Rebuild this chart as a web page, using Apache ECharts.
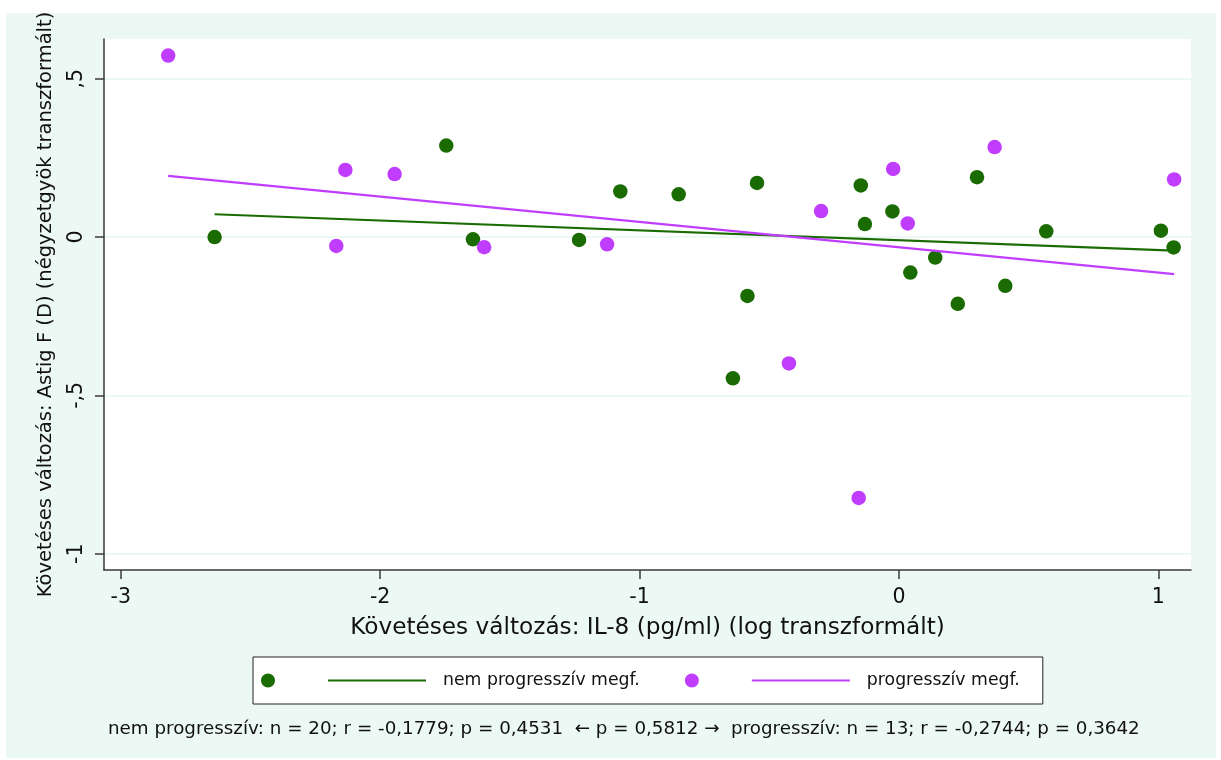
<!DOCTYPE html>
<html><head><meta charset="utf-8">
<script src="https://cdn.jsdelivr.net/npm/echarts@6/dist/echarts.min.js"></script>
<style>
html,body{margin:0;padding:0;background:#fff;width:1221px;height:760px;overflow:hidden}
#chart{position:absolute;left:6px;top:13px;width:1210px;height:745px;}
</style>
</head><body><div id="chart"></div>
<script>
// nem progresszív megf. (green)
const nemX = [-2.638, -1.745, -1.642, -1.233, -1.074, -0.849, -0.547, -0.584, -0.640, -0.147,
              -0.131, -0.025, 0.044, 0.140, 0.227, 0.301, 0.410, 0.568, 1.010, 1.059];
const nemY = [0.000, 0.289, -0.007, -0.009, 0.144, 0.135, 0.171, -0.186, -0.446, 0.163,
              0.041, 0.081, -0.112, -0.065, -0.211, 0.189, -0.154, 0.018, 0.020, -0.033];
// progresszív megf. (magenta)
const progX = [-2.817, -2.134, -2.169, -1.944, -1.599, -1.125, -0.424, -0.300, -0.155, -0.022,
               0.034, 0.369, 1.061];
const progY = [0.573, 0.212, -0.028, 0.199, -0.032, -0.023, -0.399, 0.082, -0.824, 0.215,
               0.043, 0.284, 0.182];
// fitted lines (end points)
const nemFitX = [-2.638, 1.059];
const nemFitY = [0.072, -0.043];
const progFitX = [-2.817, 1.061];
const progFitY = [0.193, -0.117];
// ticks
const xTicks = [-3, -2, -1, 0, 1];
const yTicks = [-1, -0.5, 0, 0.5];

const legendNames = ['nem progresszív megf.', 'progresszív megf.'];
const noteText = 'nem progresszív: n = 20; r = -0,1779; p = 0,4531  \u2190 p = 0,5812 \u2192  progresszív: n = 13; r = -0,2744; p = 0,3642';
const xName = 'Követéses változás: IL-8 (pg/ml) (log transzformált)';
const yName = 'Követéses változás: Astig F (D) (négyzetgyök transzformált)';

const GREEN = '#1a6c02';
const MAGENTA = '#c03dfd';
const MINT = '#ecf8f4';
const FONT = 'DejaVu Sans';
const AXIS = '#3a3a3a';
const ICON = 'path://M0,7 A7,7 0 1,1 14,7 A7,7 0 1,1 0,7 Z M67,6 L165,6 L165,8 L67,8 Z';

const zip = (xs, ys) => xs.map((x, i) => [x, ys[i]]);

const chart = echarts.init(document.getElementById('chart'), null, {renderer: 'canvas'});
chart.setOption({
  animation: false,
  backgroundColor: MINT,
  title: {
    text: noteText, left: 102, top: 707, padding: 0,
    textStyle: {fontFamily: FONT, fontSize: 18.3, fontWeight: 'normal', color: '#111'}
  },
  legend: {
    data: legendNames.map(n => ({name: n, icon: ICON})),
    left: 247, top: 644,
    itemWidth: 165, itemHeight: 14, itemGap: 45,
    padding: [15, 23, 15, 8],
    backgroundColor: '#fff', borderColor: '#222', borderWidth: 1, borderRadius: 0,
    selectedMode: false,
    textStyle: {fontFamily: FONT, fontSize: 17.3, color: '#111', padding: [0, 0, 0, 12]}
  },
  grid: {
    left: 98, top: 26, right: 25, bottom: 188,
    show: true, backgroundColor: '#fff', borderWidth: 0, containLabel: false,
    outerBoundsMode: 'none'
  },
  xAxis: {
    type: 'value', min: -3.0644, max: 1.126, splitNumber: 4,
    name: xName, nameLocation: 'middle', nameGap: 46,
    nameTextStyle: {fontFamily: FONT, fontSize: 23.2, color: '#111'},
    axisLine: {show: true, onZero: false, lineStyle: {color: AXIS, width: 1.5}},
    axisTick: {show: true, length: 9, customValues: xTicks, lineStyle: {color: AXIS, width: 1.5}},
    axisLabel: {customValues: xTicks, margin: 17, fontFamily: FONT, fontSize: 20.5, color: '#111',
      formatter: v => String(v)},
    splitLine: {show: false}
  },
  yAxis: {
    type: 'value', min: -1.0515, max: 0.6254, splitNumber: 3,
    name: yName, nameLocation: 'middle', nameGap: 48,
    nameTextStyle: {fontFamily: FONT, fontSize: 19.5, color: '#111'},
    axisLine: {show: true, onZero: false, lineStyle: {color: AXIS, width: 1.5}},
    axisTick: {show: true, length: 9, customValues: yTicks, lineStyle: {color: AXIS, width: 1.5}},
    axisLabel: {customValues: yTicks, rotate: 90, margin: 17, fontFamily: FONT, fontSize: 20.5, color: '#111',
      formatter: v => (v === 0 ? '0' : String(v).replace('0.', ','))},
    splitLine: {show: true, lineStyle: {color: MINT, width: 2.2}}
  },
  series: [
    {name: 'nem pontok', type: 'scatter', data: zip(nemX, nemY), symbolSize: 14.5,
     itemStyle: {color: GREEN, opacity: 1}, z: 3},
    {name: legendNames[0], type: 'line', data: zip(nemFitX, nemFitY), showSymbol: false,
     symbol: 'none', lineStyle: {color: GREEN, width: 2.2}, itemStyle: {color: GREEN}, z: 4},
    {name: 'prog pontok', type: 'scatter', data: zip(progX, progY), symbolSize: 14.5,
     itemStyle: {color: MAGENTA, opacity: 1}, z: 3},
    {name: legendNames[1], type: 'line', data: zip(progFitX, progFitY), showSymbol: false,
     symbol: 'none', lineStyle: {color: MAGENTA, width: 2.2}, itemStyle: {color: MAGENTA}, z: 4}
  ]
});
</script>
</body></html>
